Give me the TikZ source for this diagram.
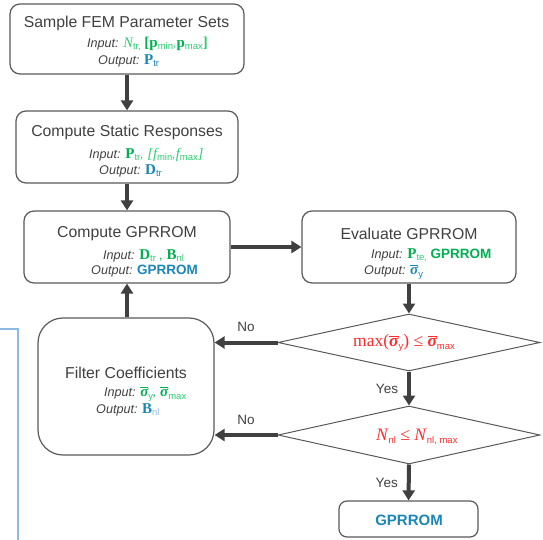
\documentclass[tikz,border=0pt]{standalone}
\usepackage{fontspec}
\setmainfont{Liberation Sans}
\newfontfamily\serifrm{Liberation Serif}
\newfontfamily\sansf{Liberation Sans}
\usetikzlibrary{arrows.meta,shapes.geometric}
\definecolor{txt}{HTML}{404040}
\definecolor{bord}{HTML}{595959}
\definecolor{gr}{HTML}{00B050}
\definecolor{lgr}{HTML}{2ECC71}
\definecolor{bl}{HTML}{1A86B8}
\definecolor{rd}{HTML}{FF2A2A}
\definecolor{stray}{HTML}{8DB9E3}
\newcommand{\sbs}[1]{\raisebox{-0.35ex}{\sansf\fontsize{9.5}{10}\selectfont\upshape\mdseries #1}}
\newcommand{\bsym}[1]{{\serifrm\bfseries\upshape\fontsize{15}{16}\selectfont #1}}
\newcommand{\isym}[1]{{\serifrm\mdseries\itshape\fontsize{14.5}{16}\selectfont #1}}
\newcommand{\sigb}{$\overline{\hbox{\serifrm\bfseries\itshape σ}}$}
\begin{document}
\begin{tikzpicture}[x=1pt,y=-1pt,
  box/.style={draw=bord,line width=1.2pt,rounded corners=10pt,minimum width=#1},
  title/.style={text=txt,font=\fontsize{15.8}{18}\selectfont,inner sep=0pt},
  io/.style={text=txt,font=\fontsize{12.6}{14}\selectfont\itshape,anchor=west,inner sep=0pt},
  dia/.style={draw=bord,line width=1pt,shape=diamond,inner sep=0pt,minimum width=262pt},
  conn/.style={draw=txt,line width=4pt,-{Triangle[length=10pt,width=12pt]}},
  lab/.style={text=txt,font=\fontsize{13.5}{16}\selectfont,inner sep=0pt},
  cond/.style={text=rd,inner sep=0pt,anchor=west,font=\serifrm\fontsize{17.5}{20}\selectfont}]
\useasboundingbox (0,0) rectangle (543,540);
% stray line
\draw[stray,line width=1.5pt] (0,329) -- (18,329) -- (18,541);
% boxes
\node[box=234pt,minimum height=70pt] (b1) at (127,39) {};
\node[box=222pt,minimum height=72pt] (b2) at (127,147) {};
\node[box=206pt,minimum height=72pt] (b3) at (127,247) {};
\node[box=214pt,minimum height=72pt] (b4) at (409,247) {};
\node[box=176pt,minimum height=137pt,rounded corners=25pt] (b5) at (126,386.5) {};
\node[dia,minimum height=57pt] (d1) at (409,342.5) {};
\node[dia,minimum height=58pt] (d2) at (409,435) {};
\node[box=139pt,minimum height=36pt,rounded corners=8pt] (fin) at (408.5,519) {};
% titles
\node[title] (t1) at (126.5,23) {Sample FEM Parameter Sets};
\node[title] (t2) at (127,132) {Compute Static Responses};
\node[title] (t3) at (127,234) {Compute GPRROM};
\node[title] (t4) at (409,234) {Evaluate GPRROM};
\node[title] (t5) at (126,373) {Filter Coefficients};
\node[text=bl,font=\fontsize{15}{18}\selectfont\bfseries,inner sep=0pt] (t6) at (409,520) {GPRROM};
% io lines
\node[io] (i1) at (87,44) {Input: {\color{lgr}\isym{N}\sbs{tr,}} {\color{gr}\bsym{[p}}{\color{lgr}\sbs{min},}{\color{gr}\bsym{p}}{\color{lgr}\sbs{max}\bsym{]}}};
\node[io] (o1) at (98,61) {Output: {\color{bl}\bsym{P}\sbs{tr}}};
\node[io] (i2) at (89,155) {Input: {\color{gr}\bsym{P}}{\color{lgr}\sbs{tr}, {\serifrm\fontsize{14.5}{16}\selectfont[}\isym{f}\sbs{min},\isym{f}\sbs{max}{\serifrm\fontsize{14.5}{16}\selectfont]}}};
\node[io] (o2) at (99,171) {Output: {\color{bl}\bsym{D}\sbs{tr}}};
\node[io] (i3) at (103,256) {Input: {\color{gr}\bsym{D}}{\color{lgr}\sbs{tr}} {\color{gr}, \bsym{B}}{\color{lgr}\sbs{nl}}};
\node[io] (o3) at (91,271) {Output: {\color{bl}\upshape\bfseries\fontsize{13.5}{14}\selectfont GPRROM}};
\node[io] (i4) at (371,255) {Input: {\color{gr}\bsym{P}}{\color{lgr}\sbs{te,}} {\color{gr}\upshape\bfseries\fontsize{13.5}{14}\selectfont GPRROM}};
\node[io] (o4) at (364,272) {Output: {\color{bl}\fontsize{15}{16}\selectfont\sigb\sbs{y}}};
\node[io] (i5) at (104,394) {Input: {\color{gr}\fontsize{15}{16}\selectfont\sigb}{\color{lgr}\sbs{y}}{\color{gr},\ \fontsize{15}{16}\selectfont\sigb}{\color{lgr}\sbs{max}}};
\node[io] (o5) at (96,410) {Output: {\color{bl}\bsym{B}}{\color{stray}\sbs{nl}}};
% decisions
\node[cond] (q1) at (353,343) {max(\sigb\sbs{y}) ≤ \sigb\sbs{max}};
\node[cond] (q2) at (376,437) {\textit{N}\sbs{nl} ≤ \textit{N}\sbs{nl, max}};
% connectors
\draw[conn] (b1.south) -- (b2.north);
\draw[conn] (b2.south) -- (b3.north);
\draw[conn] (b3.east) -- (b4.west);
\draw[conn] (b4.south) -- (d1.north);
\draw[conn] (d1.west) -- (b5.east |- d1.west) node[lab,midway,above=9pt] {No};
\draw[conn] (d1.south) -- (d2.north) node[lab,midway,left=9pt] {Yes};
\draw[conn] (d2.west) -- (b5.east |- d2.west) node[lab,midway,above=8pt] {No};
\draw[conn] (d2.south) -- (fin.north) node[lab,midway,left=9pt] {Yes};
\draw[conn] (b5.north -| b3.south) -- (b3.south);
\end{tikzpicture}
\end{document}
